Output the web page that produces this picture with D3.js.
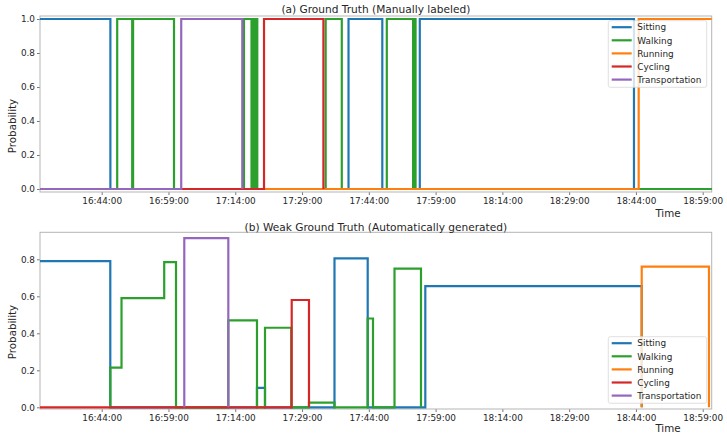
<!DOCTYPE html>
<html><head><meta charset="utf-8">
<script src="https://cdn.jsdelivr.net/npm/d3@7"></script>
<style>body{margin:0;background:#fff} svg{display:block} text{font-family:"DejaVu Sans",sans-serif;fill:#262626}</style>
</head><body><svg id="c" width="727" height="437"></svg>
<script>
// ---- data (times are minutes after 16:30:00) ----
const categories = ["Sitting", "Walking", "Running", "Cycling", "Transportation"];
const colors = ["#1f77b4", "#2ca02c", "#ff7f0e", "#d62728", "#9467bd"];
const xTickMinutes = [14, 29, 44, 59, 74, 89, 104, 119, 134, 149];
const xTickLabels = ["16:44:00", "16:59:00", "17:14:00", "17:29:00", "17:44:00", "17:59:00", "18:14:00", "18:29:00", "18:44:00", "18:59:00"];
const yTicksTop = [0, 0.2, 0.4, 0.6, 0.8, 1.0];
const yTicksBottom = [0, 0.2, 0.4, 0.6, 0.8];
const titles = ["(a) Ground Truth (Manually labeled)", "(b) Weak Ground Truth (Automatically generated)"];

// (a) ground truth: breakpoints T and step values V
const gtSittingT = [0.14, 15.95, 69.44, 77.03, 85.45, 133.56, 151.02];
const gtSittingV = [1, 0, 1, 0, 1, 0];
const gtWalkingT = [0.14, 17.48, 20.85, 21.05, 30.24, 45.96, 47.65, 47.95, 48.25, 48.55, 48.95, 64.31, 67.93, 78.04, 83.95, 84.2, 84.5, 151.02];
const gtWalkingV = [0, 1, 0, 1, 0, 1, 0, 1, 0, 1, 0, 1, 0, 1, 0, 1, 0];
const gtRunningT = [0.14, 134.62, 151.02];
const gtRunningV = [0, 1];
const gtCyclingT = [31.86, 50.46, 63.8, 63.8];
const gtCyclingV = [0, 1, 0];
const gtTransT = [0.14, 31.86, 45.58, 45.58];
const gtTransV = [0, 1, 0];

// (b) weak ground truth
const wSittingT = [0.14, 15.93, 48.88, 50.68, 66.29, 73.75, 86.69, 135.3, 135.3];
const wSittingV = [0.79, 0, 0.105, 0, 0.805, 0, 0.655, 0];
const wWalkingT = [15.93, 15.93, 18.45, 28.04, 30.69, 42.44, 48.88, 50.68, 56.57, 60.56, 66.29, 73.75, 74.94, 79.77, 85.72, 85.72];
const wWalkingV = [0, 0.215, 0.59, 0.785, 0, 0.47, 0, 0.43, 0, 0.025, 0, 0.48, 0, 0.75, 0];
const wRunningT = [135.3, 135.3, 150.41, 150.41];
const wRunningV = [0, 0.76, 0];
const wCyclingT = [0.14, 56.68, 60.56, 60.56];
const wCyclingV = [0, 0.58, 0];
const wTransT = [32.55, 32.55, 42.44, 42.44];
const wTransV = [0, 0.915, 0];

const panels = [
  {top: 16, bottom: 192, ydom: [-0.01765, 1.01765], yticks: yTicksTop, titleY: 13, timeY: 217, probY: 126,
   legTop: 20.7, series: [[gtSittingT, gtSittingV], [gtWalkingT, gtWalkingV], [gtRunningT, gtRunningV], [gtCyclingT, gtCyclingV], [gtTransT, gtTransV]]},
  {top: 232.3, bottom: 409, ydom: [-0.0092, 0.946], yticks: yTicksBottom, titleY: 230.5, timeY: 432, probY: 332,
   legTop: 336.7, series: [[wSittingT, wSittingV], [wWalkingT, wWalkingV], [wRunningT, wRunningV], [wCyclingT, wCyclingV], [wTransT, wTransV]]}
];

const svg = d3.select("#c");
const left = 40, right = 711.7;
const x = d3.scaleLinear().domain([0.14, 151.02]).range([left, right]);

panels.forEach((p, pi) => {
  const y = d3.scaleLinear().domain(p.ydom).range([p.bottom, p.top]);
  const g = svg.append("g");
  const clipId = "clip" + pi;
  svg.append("clipPath").attr("id", clipId).append("rect")
    .attr("x", left - 2).attr("y", p.top - 2).attr("width", right - left + 4).attr("height", p.bottom - p.top + 4);

  // x axis
  const xa = g.append("g").attr("transform", `translate(0,${p.bottom})`)
    .call(d3.axisBottom(x).tickValues(xTickMinutes).tickFormat((d, i) => xTickLabels[i]).tickSize(3).tickPadding(2.5));
  xa.select(".domain").remove();
  xa.selectAll("line").attr("stroke", "#777");
  xa.selectAll("text").attr("font-size", "8.9px").attr("font-family", "DejaVu Sans").attr("fill", "#262626");

  // y axis
  const ya = g.append("g").attr("transform", `translate(${left},0)`)
    .call(d3.axisLeft(y).tickValues(p.yticks).tickFormat(d3.format(".1f")).tickSize(3).tickPadding(2));
  ya.select(".domain").remove();
  ya.selectAll("line").attr("stroke", "#777");
  ya.selectAll("text").attr("font-size", "8.9px").attr("font-family", "DejaVu Sans").attr("fill", "#262626");

  // frame
  g.append("rect").attr("x", left).attr("y", p.top).attr("width", right - left).attr("height", p.bottom - p.top)
    .attr("fill", "none").attr("stroke", "#b5b5b5").attr("stroke-width", 1);

  // lines
  const line = d3.line().x(d => x(d[0])).y(d => y(d[1])).curve(d3.curveStepAfter);
  p.series.forEach((s, si) => {
    const [T, V] = s;
    const pts = T.map((t, i) => [t, V[Math.min(i, V.length - 1)]]);
    g.append("path").attr("d", line(pts)).attr("fill", "none")
      .attr("stroke", colors[si]).attr("stroke-width", 2.2).attr("clip-path", `url(#${clipId})`);
  });

  // title
  g.append("text").attr("x", (left + right) / 2).attr("y", p.titleY).attr("text-anchor", "middle")
    .attr("font-size", "10.6px").text(titles[pi]);
  // axis labels
  g.append("text").attr("x", 668).attr("y", p.timeY).attr("text-anchor", "middle")
    .attr("font-size", "10.3px").text("Time");
  g.append("text").attr("transform", `translate(15.5,${p.probY}) rotate(-90)`).attr("text-anchor", "middle")
    .attr("font-size", "10.3px").text("Probability");

  // legend
  const lg = g.append("g");
  lg.append("rect").attr("x", 608.3).attr("y", p.legTop).attr("width", 98.4).attr("height", 66.6)
    .attr("rx", 2).attr("fill", "#fff").attr("fill-opacity", 0.8).attr("stroke", "#d8d8d8").attr("stroke-width", 0.8);
  categories.forEach((c, i) => {
    const yy = p.legTop + 6.5 + i * 13.1;
    lg.append("line").attr("x1", 611.7).attr("x2", 631.7).attr("y1", yy).attr("y2", yy)
      .attr("stroke", colors[i]).attr("stroke-width", 2.2);
    lg.append("text").attr("x", 637.3).attr("y", yy + 3.2).attr("font-size", "8.9px").text(c);
  });
});
</script></body></html>
